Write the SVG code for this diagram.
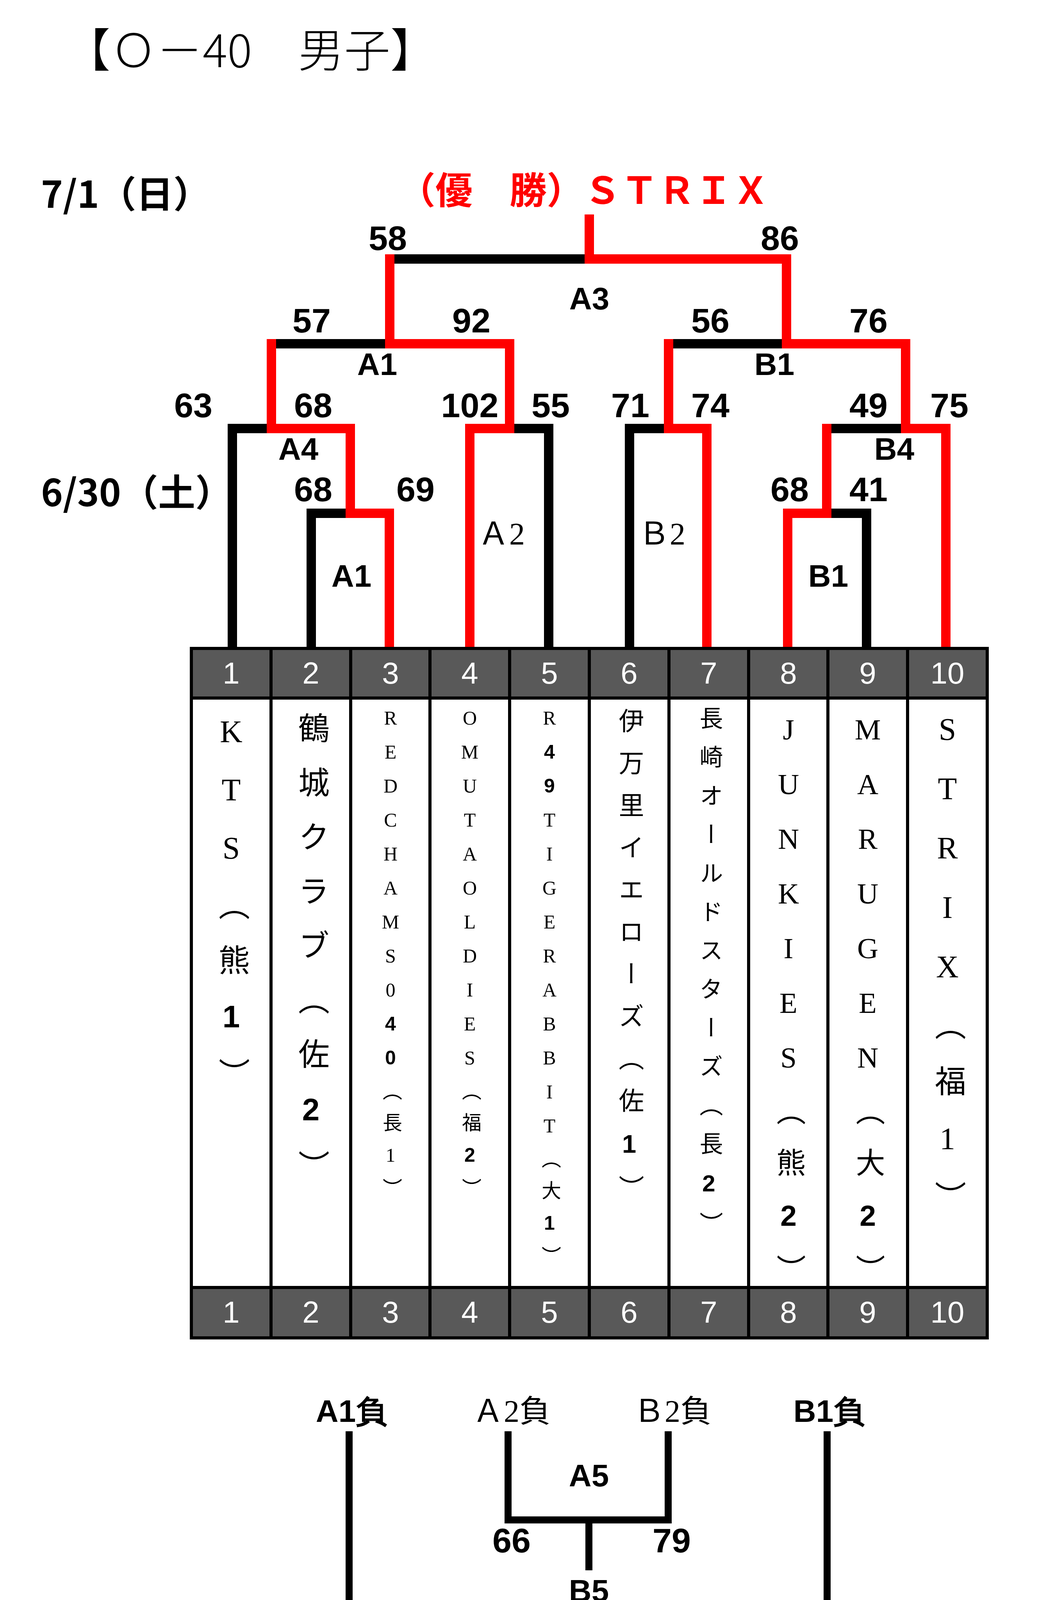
<svg xmlns="http://www.w3.org/2000/svg" width="2658" height="4267" viewBox="0 0 2658 4267">
<style>
.k{stroke:#000;stroke-width:24;fill:none;stroke-linecap:square}
.r{stroke:#f00;stroke-width:24;fill:none;stroke-linecap:square}
.kb{stroke:#000;stroke-width:18;fill:none;stroke-linecap:square}
.n{font-family:"Liberation Sans Narrow","Liberation Sans",sans-serif;font-weight:bold;font-size:88px;text-anchor:middle}
.lbl{font-family:"Liberation Sans Narrow","Liberation Sans",sans-serif;font-weight:bold;font-size:80px;text-anchor:middle}
.ser{font-family:"Liberation Serif","Noto Sans CJK JP",serif;font-size:80px;text-anchor:middle}
.day{font-family:"Liberation Sans Narrow","Noto Sans CJK JP",sans-serif;font-size:95px;font-weight:bold}
.hd{font-family:"Liberation Sans","Noto Sans",sans-serif;font-size:78px;fill:#fff;text-anchor:middle}
.v{font-family:"Liberation Serif","Noto Sans CJK JP",serif;writing-mode:vertical-rl;text-orientation:upright}
.b{font-family:"Liberation Sans",sans-serif;font-weight:bold}
</style>
<rect width="2658" height="4267" fill="#fff"/>
<text x="165" y="172" font-family="Noto Sans CJK JP,sans-serif" font-weight="300" font-size="118">【Ｏ－40　男子】</text>
<text class="day" x="105" y="532">7/1（日）</text>
<text class="day" x="105" y="1296">6/30（土）</text>
<text x="1020" y="522" font-family="Liberation Sans Narrow,Noto Sans CJK JP,sans-serif" font-weight="bold" font-size="95" fill="#f00">（優　勝）ＳＴＲＩＸ</text>

<g id="connectors">
<path class="k" d="M998 663H1509 M695 880H1000 M1712 880H2014 M595 1097H707 M595 1097V1660 M1293 1097H1405V1660 M1612 1660V1097H1712 M2117 1097H2324 M797 1660V1314H910 M2107 1314H2219V1660"/>
<path class="r" d="M1509 561V663H2014V880 M998 663V880 M1000 880H1305V1097 M695 880V1097 M2014 880H2319V1097 M1712 880V1097 M707 1097H897V1314 M1203 1660V1097H1293 M1712 1097H1810V1660 M2117 1097V1314 M2324 1097H2422V1660 M910 1314H997V1660 M2017 1660V1314H2107"/>
<path class="kb" d="M894 3673V4143H2118V3673 M1301 3673V3891H1711V3673 M1508 3891V4011 M1508 4143V4262"/>
</g>

<g id="scores">
<text class="n" x="993" y="640">58</text><text class="n" x="1997" y="640">86</text>
<text class="lbl" x="1509" y="792">A3</text>
<text class="n" x="798" y="851">57</text><text class="n" x="1207" y="851">92</text>
<text class="n" x="1819" y="851">56</text><text class="n" x="2224" y="851">76</text>
<text class="lbl" x="966" y="960">A1</text><text class="lbl" x="1983" y="960">B1</text>
<text class="n" x="495" y="1068">63</text><text class="n" x="802" y="1068">68</text>
<text class="n" x="1203" y="1068">102</text><text class="n" x="1410" y="1068">55</text>
<text class="n" x="1614" y="1068">71</text><text class="n" x="1819" y="1068">74</text>
<text class="n" x="2224" y="1068">49</text><text class="n" x="2431" y="1068">75</text>
<text class="lbl" x="764" y="1177">A4</text><text class="lbl" x="2290" y="1177">B4</text>
<text class="n" x="802" y="1283">68</text><text class="n" x="1064" y="1283">69</text>
<text class="n" x="2022" y="1283">68</text><text class="n" x="2224" y="1283">41</text>
<text class="ser" x="1284" y="1394">Ａ2</text><text class="ser" x="1695" y="1394">Ｂ2</text>
<text class="lbl" x="900" y="1502">A1</text><text class="lbl" x="2121" y="1502">B1</text>
</g>

<g id="table">
<rect x="490" y="1660" width="2038" height="127" fill="#595959"/>
<rect x="490" y="3296" width="2038" height="129" fill="#595959"/>
<rect x="490" y="1660" width="2038" height="1765" fill="none" stroke="#000" stroke-width="8"/>
<path stroke="#000" stroke-width="8" d="M490 1787H2528 M490 3296H2528 M694 1660V3425 M898 1660V3425 M1101 1660V3425 M1305 1660V3425 M1509 1660V3425 M1713 1660V3425 M1917 1660V3425 M2120 1660V3425 M2324 1660V3425"/>
<g id="nums-top">
<text class="hd" x="592" y="1750">1</text><text class="hd" x="796" y="1750">2</text><text class="hd" x="1000" y="1750">3</text><text class="hd" x="1203" y="1750">4</text><text class="hd" x="1407" y="1750">5</text><text class="hd" x="1611" y="1750">6</text><text class="hd" x="1815" y="1750">7</text><text class="hd" x="2019" y="1750">8</text><text class="hd" x="2222" y="1750">9</text><text class="hd" x="2426" y="1750">10</text>
</g>
<g id="nums-bottom">
<text class="hd" x="592" y="3386">1</text><text class="hd" x="796" y="3386">2</text><text class="hd" x="1000" y="3386">3</text><text class="hd" x="1203" y="3386">4</text><text class="hd" x="1407" y="3386">5</text><text class="hd" x="1611" y="3386">6</text><text class="hd" x="1815" y="3386">7</text><text class="hd" x="2019" y="3386">8</text><text class="hd" x="2222" y="3386">9</text><text class="hd" x="2426" y="3386">10</text>
</g>
</g>

<g id="team1"><text class="v" x="592" y="1829" font-size="80" letter-spacing="61">KTS（熊<tspan class="b">1</tspan>）</text></g>
<g id="team2"><text class="v" x="796" y="1823" font-size="80" letter-spacing="59">鶴城クラブ（佐<tspan class="b">2</tspan>）</text></g>
<g id="team3"><text class="v" x="1000" y="1810" font-size="50" letter-spacing="31">REDCHAMS0<tspan class="b">40</tspan>（長1）</text></g>
<g id="team4"><text class="v" x="1203" y="1810" font-size="50" letter-spacing="31">OMUTAOLDIES（福<tspan class="b">2</tspan>）</text></g>
<g id="team5"><text class="v" x="1407" y="1810" font-size="50" letter-spacing="31">R<tspan class="b">49</tspan>TIGERABBIT（大<tspan class="b">1</tspan>）</text></g>
<g id="team6"><text class="v" x="1611" y="1812" font-size="65" letter-spacing="43">伊万里イエローズ（佐<tspan class="b">1</tspan>）</text></g>
<g id="team7"><text class="v" x="1815" y="1808" font-size="60" letter-spacing="39">長崎オールドスターズ（長<tspan class="b">2</tspan>）</text></g>
<g id="team8"><text class="v" x="2019" y="1826" font-size="75" letter-spacing="57">JUNKIES（熊<tspan class="b">2</tspan>）</text></g>
<g id="team9"><text class="v" x="2222" y="1826" font-size="75" letter-spacing="57">MARUGEN（大<tspan class="b">2</tspan>）</text></g>
<g id="team10"><text class="v" x="2426" y="1823" font-size="80" letter-spacing="64">STRIX（福1）</text></g>

<g id="consolation">
<text class="lbl" x="900" y="3640" font-size="92">A1負</text>
<text class="ser" x="1310" y="3640" font-size="88">Ａ2負</text>
<text class="ser" x="1722" y="3640" font-size="88">Ｂ2負</text>
<text class="lbl" x="2123" y="3640" font-size="92">B1負</text>
<text class="lbl" x="1508" y="3805">A5</text>
<text class="n" x="1310" y="3974">66</text><text class="n" x="1720" y="3974">79</text>
<text class="lbl" x="1508" y="4100">B5</text>
<text class="n" x="1006" y="4225">66</text><text class="n" x="2128" y="4225">58</text>
</g>
</svg>
